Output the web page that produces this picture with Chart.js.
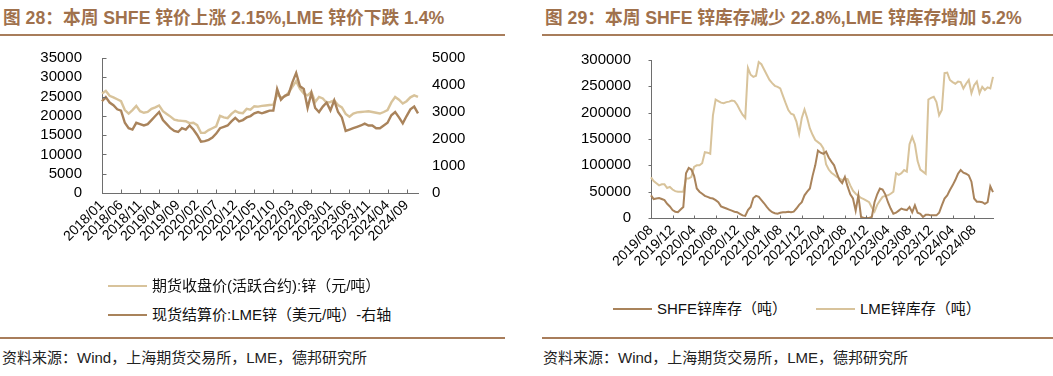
<!DOCTYPE html>
<html><head><meta charset="utf-8">
<script src="https://cdn.jsdelivr.net/npm/chart.js@4.4.1/dist/chart.umd.min.js"></script>
<style>
body{margin:0;width:1053px;height:376px;background:#fff;position:relative;overflow:hidden;font-family:"Liberation Sans","Noto Sans CJK SC",sans-serif;}
.title{position:absolute;top:8px;line-height:20px;font-size:17.7px;font-weight:bold;color:#a0714c;white-space:nowrap;}
.rule{position:absolute;height:2px;background:#a87d5b;}
.src{position:absolute;top:349px;line-height:18px;font-size:15px;color:#222;white-space:nowrap;}
canvas{position:absolute;top:0}
.leg{position:absolute;font-size:15px;line-height:20px;color:#111;white-space:nowrap;display:flex;align-items:center;}
.leg i{display:inline-block;width:39px;height:2px;margin-right:5px;}
</style></head>
<body>
<div class="title" style="left:3px">图 28：本周 SHFE 锌价上涨 2.15%,LME 锌价下跌 1.4%</div>
<div class="rule" style="left:0;width:505px;top:34px"></div>
<div class="title" style="left:545px">图 29：本周 SHFE 锌库存减少 22.8%,LME 锌库存增加 5.2%</div>
<div class="rule" style="left:542px;width:511px;top:34px"></div>

<canvas id="c1" width="505" height="290" style="left:0"></canvas>
<canvas id="c2" width="523" height="290" style="left:530px"></canvas>

<div class="leg" style="left:108px;top:276px"><i style="background:#d8c39b"></i>期货收盘价(活跃合约):锌（元/吨）</div>
<div class="leg" style="left:108px;top:305px"><i style="background:#a9835b"></i>现货结算价:LME锌（美元/吨）-右轴</div>
<div class="leg" style="left:613px;top:299px"><i style="background:#a9835b"></i>SHFE锌库存（吨）</div>
<div class="leg" style="left:816px;top:299px"><i style="background:#d8c39b"></i>LME锌库存（吨）</div>

<div class="rule" style="left:0;width:505px;top:337px"></div>
<div class="rule" style="left:542px;width:511px;top:337px"></div>
<div class="src" style="left:2px">资料来源：Wind，上海期货交易所，LME，德邦研究所</div>
<div class="src" style="left:543px">资料来源：Wind，上海期货交易所，LME，德邦研究所</div>

<script>
// ---------- Chart 28 data (monthly, 2018/01 - 2024/12) ----------
const priceTickLabels = ['2018/01','2018/06','2018/11','2019/04','2019/09','2020/02','2020/07','2020/12','2021/05','2021/10','2022/03','2022/08','2023/01','2023/06','2023/11','2024/04','2024/09'];
const shfeZincPrice = [
 25800,26500,25200,24800,24300,23800,21500,20600,21500,22600,21200,20800,
 21000,21800,22200,22700,21200,20500,19800,19000,18800,18700,18600,18100,
 18200,17600,15600,15600,16300,16800,17300,20000,19600,19400,20500,21300,
 20800,20700,21800,21600,22500,22400,22600,22700,22800,22900,25500,24800,
 25000,26000,27500,29000,27000,25800,25300,26200,23600,24900,24500,23400,
 23600,24000,22800,22200,20500,19800,20600,20900,21000,21100,21200,21000,
 20800,20600,21000,21500,23500,24900,24200,23200,23800,24800,25300,24900];
const lmeZincPrice = [
 3400,3550,3350,3250,3100,3050,2600,2400,2350,2600,2550,2500,
 2550,2700,2850,3000,2700,2550,2400,2300,2260,2400,2350,2500,
 2350,2150,1900,1920,1970,2050,2200,2400,2450,2500,2650,2780,
 2650,2700,2800,2850,2950,3000,2950,3000,3050,3050,3850,3450,
 3600,3650,4100,4450,3950,3850,3150,3700,3150,3000,3200,3350,
 3060,3430,3000,2800,2300,2350,2400,2450,2500,2570,2500,2500,
 2400,2400,2500,2600,2880,3000,2800,2580,2850,3100,3200,2950];

// ---------- Chart 29 data (half-monthly, 2019/08 - 2024/11) ----------
const stockTickLabels = ['2019/08','2019/12','2020/04','2020/08','2020/12','2021/04','2021/08','2021/12','2022/04','2022/08','2022/12','2023/04','2023/08','2023/12','2024/04','2024/08'];
const shfeZincStock = [
 43000,36000,37000,38000,36000,34000,27000,22000,15000,12000,11000,16000,21000,85000,95000,92000,
 80000,56000,50000,46000,42000,40000,38000,37000,34000,30000,22000,20000,18000,16000,14000,12000,
 11000,8000,5000,4000,15000,21000,38000,42000,40000,34000,28000,21000,15000,11000,9000,8000,
 10000,11000,11000,12000,11000,12000,18000,25000,30000,43000,50000,56000,80000,100000,128000,124000,
 122000,126000,115000,107000,100000,85000,72000,66000,78000,60000,45000,37000,14000,43000,2000,0,
 0,0,2000,30000,45000,56000,54000,45000,30000,18000,8000,10000,14000,18000,16000,15000,
 21000,11000,24000,10000,8000,2000,6000,6000,5000,5000,5000,10000,24000,37000,43000,53000,
 62000,72000,84000,91000,86000,84000,81000,69000,37000,31000,31000,30000,27000,30000,60000,49000];
const lmeZincStock = [
 77000,70000,66000,62000,64000,64000,57000,59000,54000,51000,50000,50000,50000,75000,75000,78000,
 97000,100000,100000,104000,125000,124000,122000,195000,225000,222000,219000,218000,220000,221000,223000,222000,
 215000,205000,196000,190000,285000,272000,268000,270000,296000,292000,282000,272000,262000,256000,251000,249000,
 246000,232000,218000,205000,198000,196000,183000,160000,190000,206000,190000,170000,158000,148000,144000,140000,
 132000,102000,92000,86000,82000,78000,75000,72000,75000,74000,62000,52000,46000,42000,38000,36000,
 33000,30000,20000,12000,25000,33000,40000,42000,43000,46000,50000,85000,82000,85000,91000,88000,
 140000,154000,140000,108000,92000,88000,84000,225000,228000,230000,220000,195000,205000,275000,276000,262000,
 258000,255000,259000,258000,246000,255000,262000,237000,252000,259000,237000,249000,243000,248000,246000,268000];

const LIGHT = '#d8c39b', DARK = '#a9835b', AXIS = '#6e6e6e';
const FONT = {family:'"Liberation Sans","Noto Sans CJK SC",sans-serif'};

// category labels (dates)
const priceCats = shfeZincPrice.map((_, i) => (2018 + Math.floor(i / 12)) + '/' + String(i % 12 + 1).padStart(2, '0'));
const stockCats = shfeZincStock.map((_, i) => {
  const off = 7 + Math.floor(i / 2);
  return (2019 + Math.floor(off / 12)) + '/' + String(off % 12 + 1).padStart(2, '0') + (i % 2 ? '/16' : '/01');
});

// tick marks drawn from the scales' own tick pixels
const tickMarks = {
  id: 'tickMarks',
  afterDraw(chart, args, opts) {
    const ctx = chart.ctx;
    ctx.save();
    ctx.strokeStyle = AXIS;
    ctx.lineWidth = 1;
    for (const id in opts) {
      const s = chart.scales[id];
      const len = opts[id];
      if (!s) continue;
      s.ticks.forEach((t, i) => {
        if (t.label == null || t.label === '') return;
        const p = Math.round(s.getPixelForTick(i)) + 0.5;
        ctx.beginPath();
        if (s.isHorizontal()) {
          const y = Math.round(s.top) + 0.5;
          ctx.moveTo(p, y); ctx.lineTo(p, y + len);
        } else {
          const x = Math.round(s.position === 'left' ? s.right : s.left) + 0.5;
          ctx.moveTo(x, p); ctx.lineTo(x + len, p);
        }
        ctx.stroke();
      });
    }
    ctx.restore();
  }
};

function fixW(w) { return s => { s.width = w; }; }
function fixH(h) { return s => { s.height = h; }; }
const plain = v => String(v);

new Chart(document.getElementById('c1'), {
  type: 'line',
  data: {
    labels: priceCats,
    datasets: [
      {label: '现货结算价:LME锌（美元/吨）-右轴', data: lmeZincPrice, yAxisID: 'y1', borderColor: DARK, backgroundColor: DARK, borderWidth: 2.4, pointRadius: 0, order: 0},
      {label: '期货收盘价(活跃合约):锌（元/吨）', data: shfeZincPrice, yAxisID: 'y', borderColor: LIGHT, backgroundColor: LIGHT, borderWidth: 2.4, pointRadius: 0, order: 1}
    ]
  },
  options: {
    responsive: false, animation: false,
    layout: {padding: {left: 0, right: 0, top: 58, bottom: 0}},
    plugins: {legend: {display: false}, tooltip: {enabled: false}, tickMarks: {x: -4, y: 4}},
    scales: {
      x: {
        type: 'category', offset: false,
        grid: {display: false, drawTicks: false},
        border: {display: true, color: AXIS, width: 1},
        ticks: {autoSkip: false, maxRotation: 45, minRotation: 45, padding: 4, color: '#000', font: {...FONT, size: 14},
          callback: (v, i) => i % 5 === 0 ? priceTickLabels[i / 5] : null},
        afterFit: fixH(97)
      },
      y: {
        position: 'left', min: 0, max: 35000,
        grid: {display: false, drawTicks: false},
        border: {display: true, color: AXIS, width: 1},
        ticks: {stepSize: 5000, autoSkip: false, padding: 20, color: '#000', font: {...FONT, size: 15}, callback: plain},
        afterFit: fixW(102)
      },
      y1: {
        position: 'right', min: 0, max: 5000,
        grid: {display: false, drawTicks: false},
        border: {display: false},
        ticks: {stepSize: 1000, autoSkip: false, padding: 14, color: '#000', font: {...FONT, size: 15}, callback: plain},
        afterFit: fixW(87)
      }
    }
  },
  plugins: [tickMarks]
});

new Chart(document.getElementById('c2'), {
  type: 'line',
  data: {
    labels: stockCats,
    datasets: [
      {label: 'SHFE锌库存（吨）', data: shfeZincStock, borderColor: DARK, backgroundColor: DARK, borderWidth: 2, pointRadius: 0, order: 0},
      {label: 'LME锌库存（吨）', data: lmeZincStock, borderColor: LIGHT, backgroundColor: LIGHT, borderWidth: 2, pointRadius: 0, order: 1}
    ]
  },
  options: {
    responsive: false, animation: false,
    layout: {padding: {left: 0, right: 60, top: 60, bottom: 0}},
    plugins: {legend: {display: false}, tooltip: {enabled: false}, tickMarks: {x: -3, y: -3}},
    scales: {
      x: {
        type: 'category', offset: false,
        grid: {display: false, drawTicks: false},
        border: {display: true, color: AXIS, width: 1},
        ticks: {autoSkip: false, maxRotation: 45, minRotation: 45, padding: 4, color: '#000', font: {...FONT, size: 14},
          callback: (v, i) => i % 8 === 0 ? stockTickLabels[i / 8] : null},
        afterFit: fixH(72)
      },
      y: {
        position: 'left', min: 0, max: 300000,
        grid: {display: false, drawTicks: false},
        border: {display: true, color: AXIS, width: 1},
        ticks: {stepSize: 50000, autoSkip: false, padding: 20, color: '#000', font: {...FONT, size: 15}, callback: plain},
        afterFit: fixW(121)
      }
    }
  },
  plugins: [tickMarks]
});
</script>
</body></html>
